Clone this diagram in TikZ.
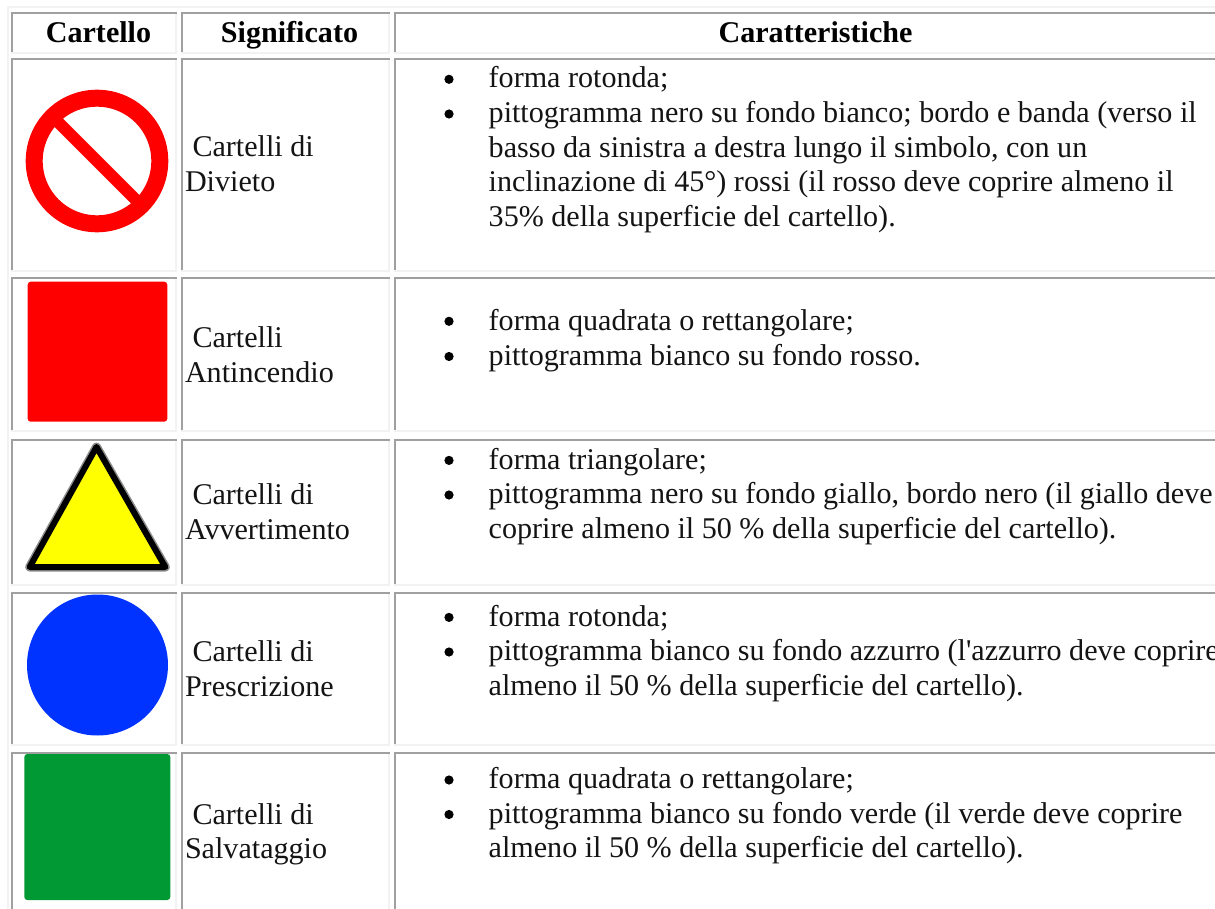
\documentclass[tikz,border=0pt]{standalone}
\usepackage{fontspec}
\setmainfont{Liberation Serif}[Ligatures=TeXOff]
\definecolor{cellgray}{HTML}{A0A0A0}
\definecolor{celllight}{HTML}{F2F2F2}
\definecolor{signred}{HTML}{FF0000}
\definecolor{signblue}{HTML}{0033FF}
\definecolor{signgreen}{HTML}{009933}
\definecolor{signyellow}{HTML}{FFFF00}
\tikzset{
  x=1pt,y=-1pt,
  txt/.style={anchor=base west,inner sep=0pt,outer sep=0pt,font=\fontsize{30.1}{35}\selectfont,text=black!92},
  head/.style={anchor=base,inner sep=0pt,outer sep=0pt,font=\fontsize{30.1}{35}\selectfont\bfseries},
  blt/.style={circle,fill=black,inner sep=0pt,minimum size=9.2pt},
  gray edge/.style={draw=none,fill=cellgray},
  light edge/.style={draw=none,fill=celllight}
}
% cell: x0, y0, x1, y1
\newcommand{\cellbox}[4]{%
  \fill[light edge] (#1,#4-2) rectangle (#3,#4);
  \fill[light edge] (#3-2,#2) rectangle (#3,#4);
  \fill[gray edge] (#1,#2) rectangle (#3,#2+2);
  \fill[gray edge] (#1,#2) rectangle (#1+2,#4-2);
}
\newcommand{\rowcells}[2]{%
  \cellbox{11}{#1}{177}{#2}
  \cellbox{181}{#1}{390}{#2}
  \cellbox{394}{#1}{1217}{#2}
}
\begin{document}
\begin{tikzpicture}
\useasboundingbox (0,0) rectangle (1215,909);
\fill[white] (0,0) rectangle (1215,909);
\fill[light edge] (7,6) rectangle (1215,8);
\fill[light edge] (7,6) rectangle (9,909);
\rowcells{12}{54}
\rowcells{58}{272.5}
\rowcells{277.5}{432}
\rowcells{438.5}{586}
\rowcells{591.5}{746}
\rowcells{751.5}{920}
% header
\node[head] (h1) at (98.5,42.5) {Cartello};
\node[head] (h2) at (289.5,42.5) {Significato};
\node[head] (h3) at (815.5,42.5) {Caratteristiche};
% signs
\draw[signred,line width=17pt] (97,161) circle (62.8);
\draw[signred,line width=12pt] (57,121) -- (137,201);
\fill[signred,rounded corners=3pt] (27.7,281.7) rectangle (167.3,421.7);
\draw[black!45,line width=9pt,line join=round] (96.5,447) -- (29.7,567) -- (165.3,567) -- cycle;
\draw[black,line width=6pt,line join=round,fill=signyellow] (96.5,447) -- (29.7,567) -- (165.3,567) -- cycle;
\fill[signblue] (97.5,665) circle (70.5);
\fill[signgreen,rounded corners=3pt] (24.3,754) rectangle (170.3,900);
% column 2
\node[txt] (a1) at (192.5,156.7) {Cartelli di};
\node[txt] (a2) at (185,191.7) {Divieto};
\node[txt] (b1) at (192.5,347.3) {Cartelli};
\node[txt] (b2) at (185,382.3) {Antincendio};
\node[txt] (c1) at (192.5,504) {Cartelli di};
\node[txt] (c2) at (185,539) {Avvertimento};
\node[txt] (d1) at (192.5,661.7) {Cartelli di};
\node[txt] (d2) at (185,696.5) {Prescrizione};
\node[txt] (e1) at (192.5,824) {Cartelli di};
\node[txt] (e2) at (185,858.5) {Salvataggio};
% column 3
\node[blt] (p1) at (449,79.3) {};
\node[txt] (t11) at (488.7,88) {forma rotonda;};
\node[blt] (p2) at (449,114) {};
\node[txt] (t12) at (488.7,122.6) {pittogramma nero su fondo bianco; bordo e banda (verso il};
\node[txt] (t13) at (488.7,157.2) {basso da sinistra a destra lungo il simbolo, con un};
\node[txt] (t14) at (488.7,191.8) {inclinazione di 45°) rossi (il rosso deve coprire almeno il};
\node[txt] (t15) at (488.7,226.4) {35\% della superficie del cartello).};
\node[blt] (q1) at (449,321.3) {};
\node[txt] (t21) at (488.7,330) {forma quadrata o rettangolare;};
\node[blt] (q2) at (449,356.5) {};
\node[txt] (t22) at (488.7,365) {pittogramma bianco su fondo rosso.};
\node[blt] (r1) at (449,460.4) {};
\node[txt] (t31) at (488.7,469) {forma triangolare;};
\node[blt] (r2) at (449,495) {};
\node[txt] (t32) at (488.7,503.6) {pittogramma nero su fondo giallo, bordo nero (il giallo deve};
\node[txt] (t33) at (488.7,538.2) {coprire almeno il 50 \% della superficie del cartello).};
\node[blt] (s1) at (449,617.4) {};
\node[txt] (t41) at (488.7,626) {forma rotonda;};
\node[blt] (s2) at (449,652) {};
\node[txt] (t42) at (488.7,660.6) {pittogramma bianco su fondo azzurro (l'azzurro deve coprire};
\node[txt] (t43) at (488.7,695.2) {almeno il 50 \% della superficie del cartello).};
\node[blt] (u1) at (449,780) {};
\node[txt] (t51) at (488.7,788.3) {forma quadrata o rettangolare;};
\node[blt] (u2) at (449,814.5) {};
\node[txt] (t52) at (488.7,823) {pittogramma bianco su fondo verde (il verde deve coprire};
\node[txt] (t53) at (488.7,857.6) {almeno il 50 \% della superficie del cartello).};
\end{tikzpicture}
\end{document}
